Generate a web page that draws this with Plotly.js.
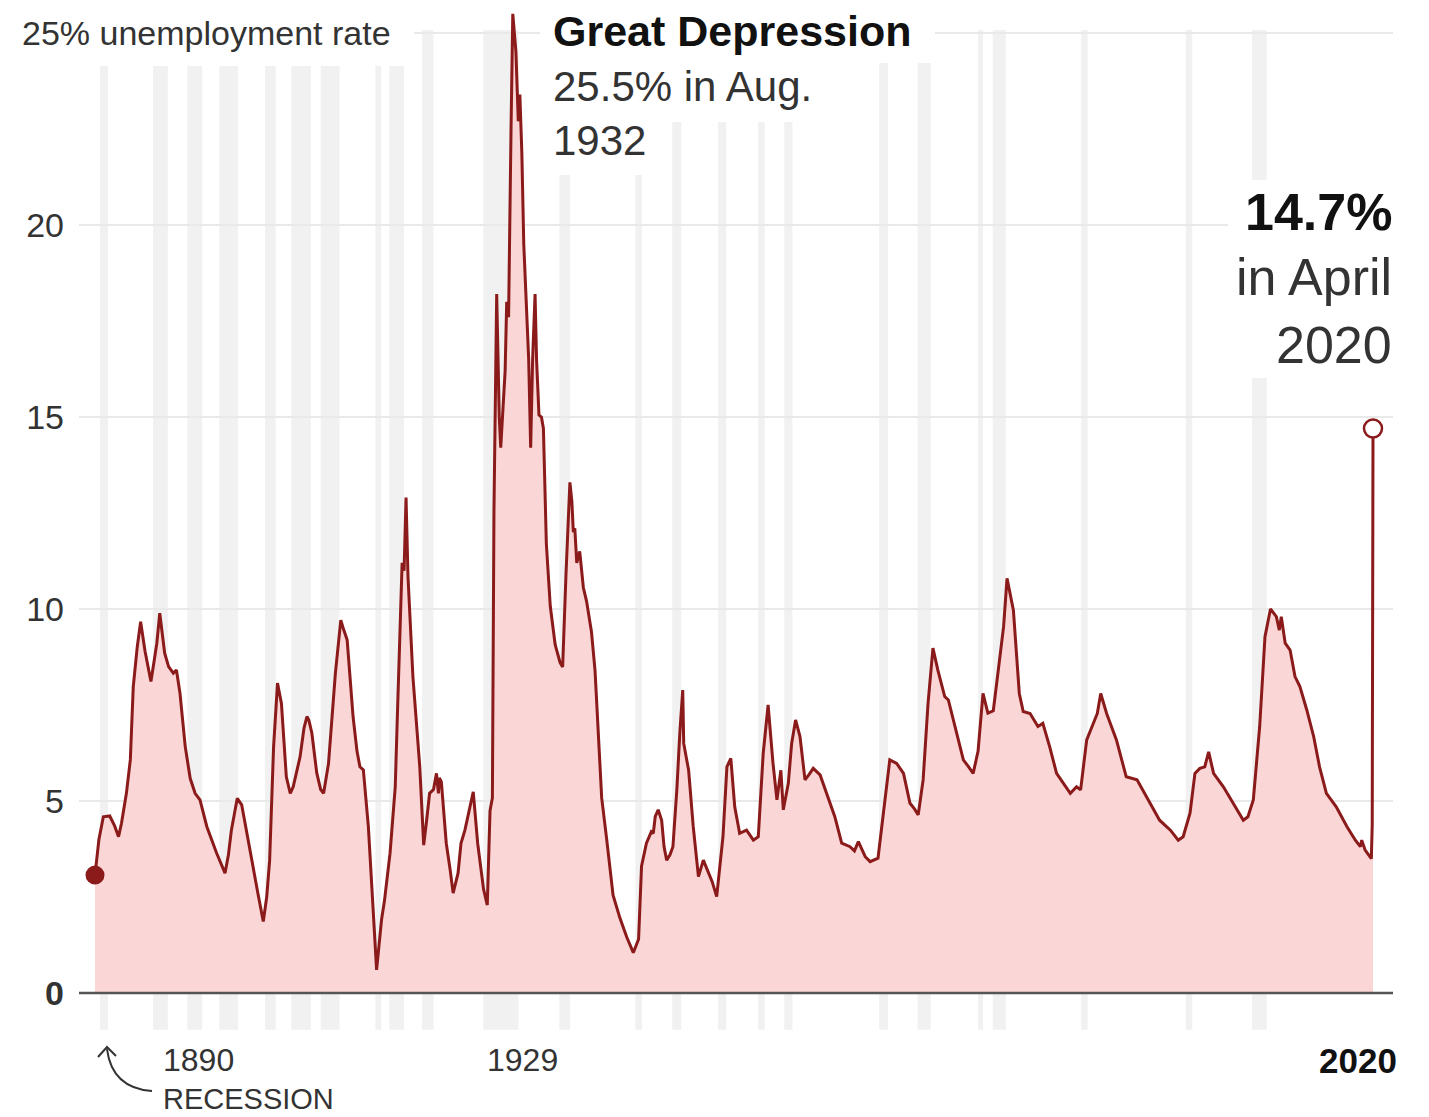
<!DOCTYPE html>
<html><head><meta charset="utf-8">
<script src="https://cdn.plot.ly/plotly-3.0.1.min.js"></script>
<style>html,body{margin:0;padding:0;background:#fff}#chart{width:1429px;height:1117px}</style>
</head><body><div id="chart"></div>
<script>
// Monthly-ish unemployment rate readings (decimal year, percent)
const years = [1890.0,1890.4,1890.85,1891.5,1892.0,1892.4,1892.7,1893.2,1893.6,1893.9,1894.3,1894.65,1895.1,1895.7,1896.0,1896.3,1896.6,1897.1,1897.5,1897.98,1898.3,1898.66,1899.2,1899.7,1900.2,1900.7,1901.4,1902.0,1902.4,1903.25,1903.6,1903.9,1904.5,1904.95,1905.5,1905.97,1906.6,1907.15,1907.5,1907.8,1908.0,1908.2,1908.6,1909.0,1909.5,1909.9,1910.2,1910.9,1911.3,1911.6,1911.8,1912.1,1912.6,1913.0,1913.3,1913.8,1914.5,1915.05,1915.3,1915.7,1916.3,1916.7,1917.0,1917.35,1917.86,1918.4,1918.7,1919.2,1919.5,1920.07,1920.6,1920.85,1921.1,1921.3,1921.5,1921.7,1921.9,1922.4,1923.1,1923.5,1923.8,1924.1,1924.5,1924.8,1925.0,1925.1,1925.3,1925.8,1926.2,1926.5,1927.0,1927.3,1927.7,1928.05,1928.55,1929.0,1929.24,1929.6,1929.98,1930.26,1930.5,1930.66,1930.94,1931.2,1931.35,1931.5,1931.8,1931.96,1932.15,1932.4,1932.58,1932.9,1933.14,1933.3,1933.5,1933.7,1933.9,1934.2,1934.4,1934.6,1934.85,1935.0,1935.25,1935.5,1935.7,1936.0,1936.4,1936.9,1937.4,1937.66,1938.0,1938.4,1938.6,1938.75,1938.9,1939.1,1939.4,1939.77,1940.1,1940.6,1940.96,1941.3,1941.64,1942.15,1942.8,1943.5,1944.2,1944.86,1945.4,1945.7,1946.2,1946.7,1946.9,1947.1,1947.4,1947.75,1948.0,1948.26,1948.6,1948.9,1949.3,1949.6,1949.9,1950.0,1950.5,1950.97,1951.5,1952.0,1952.5,1952.9,1953.36,1954.0,1954.4,1954.8,1955.2,1955.7,1956.4,1957.1,1957.6,1958.1,1958.6,1959.1,1959.5,1959.9,1960.15,1960.66,1961.0,1961.4,1961.85,1962.36,1962.8,1963.2,1963.9,1964.57,1965.4,1966.1,1966.95,1967.4,1967.8,1968.5,1969.0,1969.8,1970.5,1971.0,1971.7,1972.4,1973.06,1973.5,1973.9,1974.4,1974.9,1975.4,1975.9,1976.6,1976.97,1977.65,1978.2,1978.5,1979.0,1979.5,1980.0,1980.5,1981.0,1981.55,1982.06,1982.6,1982.95,1983.6,1984.2,1984.6,1985.3,1986.1,1986.6,1987.3,1988.0,1988.7,1989.4,1990.04,1990.45,1991.07,1991.6,1992.15,1992.5,1993.1,1994.1,1995.1,1996.2,1997.2,1998.5,1999.6,2000.4,2000.9,2001.6,2002.1,2002.6,2003.1,2003.5,2004.0,2005.0,2006.0,2007.03,2007.5,2008.05,2008.7,2009.24,2009.8,2010.4,2010.7,2010.9,2011.3,2011.8,2012.3,2012.8,2013.5,2014.2,2014.8,2015.5,2016.5,2017.6,2018.45,2018.96,2019.1,2019.45,2020.08,2020.17,2020.25];
const rates = [3.07,4.0,4.59,4.61,4.35,4.07,4.42,5.2,6.07,7.98,9.0,9.67,8.9,8.11,8.6,9.11,9.89,8.85,8.5,8.33,8.41,7.81,6.41,5.59,5.2,5.03,4.33,3.9,3.64,3.12,3.6,4.24,5.07,4.9,4.1,3.46,2.6,1.86,2.5,3.46,5.0,6.41,8.07,7.54,5.63,5.2,5.37,6.15,6.9,7.2,7.1,6.77,5.73,5.3,5.2,5.98,8.33,9.71,9.5,9.19,7.2,6.3,5.89,5.81,4.33,1.73,0.6,1.9,2.4,3.64,5.37,7.5,9.54,11.2,11.0,12.9,10.84,8.24,5.89,3.85,4.5,5.2,5.3,5.72,5.2,5.6,5.5,3.9,3.2,2.6,3.12,3.9,4.24,4.68,5.24,3.9,3.46,2.7,2.29,4.75,5.08,12.56,18.2,15.0,14.2,15.0,16.2,18.0,17.6,22.5,25.5,24.5,22.7,23.4,21.9,19.5,18.2,16.5,14.2,16.5,18.2,16.5,15.05,15.0,14.7,11.7,10.07,9.07,8.6,8.49,10.9,13.3,12.8,12.0,12.1,11.2,11.5,10.56,10.2,9.4,8.4,6.74,5.08,4.0,2.55,1.95,1.45,1.05,1.4,3.3,3.9,4.2,4.16,4.6,4.77,4.5,3.8,3.46,3.6,3.81,5.3,6.76,7.89,6.5,5.8,4.33,3.03,3.46,3.12,2.9,2.51,4.07,5.89,6.11,4.85,4.16,4.24,3.98,4.07,6.24,7.5,5.98,5.03,5.8,4.77,5.46,6.5,7.11,6.68,5.55,5.7,5.85,5.68,5.2,4.59,3.9,3.81,3.7,3.94,3.55,3.42,3.51,4.94,6.07,5.98,5.72,4.94,4.8,4.64,5.55,7.54,8.98,8.41,7.72,7.63,6.93,6.4,6.07,5.9,5.72,6.3,7.8,7.29,7.35,8.41,9.54,10.8,9.97,7.8,7.33,7.28,6.94,7.02,6.41,5.72,5.46,5.2,5.37,5.29,6.59,6.94,7.28,7.8,7.28,6.59,5.63,5.55,5.11,4.5,4.24,3.98,4.07,4.68,5.72,5.85,5.89,6.28,5.72,5.37,4.94,4.5,4.59,5.03,6.94,9.28,10.0,9.8,9.45,9.8,9.11,8.93,8.24,7.98,7.37,6.68,5.89,5.2,4.85,4.33,3.98,3.81,3.98,3.72,3.5,4.4,14.7];

// Recession periods (decimal year)
const recessionStarts = [1890.5,1895.92,1899.42,1902.67,1907.33,1910.0,1913.0,1918.58,1920.0,1923.33,1929.58,1937.33,1945.08,1948.83,1953.5,1957.58,1960.25,1969.92,1973.83,1980.0,1981.5,1990.5,2001.17,2007.92];
const recessionEnds   = [1891.33,1897.42,1900.92,1904.58,1908.42,1912.0,1914.92,1919.17,1921.5,1924.5,1933.17,1938.42,1945.75,1949.75,1954.33,1958.25,1961.08,1970.83,1975.17,1980.5,1982.83,1991.17,2001.83,2009.42];

const yTickVals = [0,5,10,15,20,25];
const yTickText = ['<b>0</b>','5','10','15','20',''];

// ---- layout geometry (pixels) ----
const W = 1429, H = 1117, L = 79, R = 36, T = 10, B = 87;
const PW = W - L - R, PH = H - T - B;
const PXYEAR = 9.812, PXUNIT = 38.4, X0PX = 95, Y0PX = 993;
const px2x = p => (p - L) / PW;
const py2y = p => (H - B - p) / PH;
const px2d = p => 1890 + (p - X0PX) / PXYEAR;
const py2d = p => (Y0PX - p) / PXUNIT;

const FONT = 'Liberation Sans, Arial, sans-serif';
const RED = '#8b1a1a';

const shapes = [];
recessionStarts.forEach((s, i) => {
  shapes.push({type:'rect', xref:'x', yref:'y', x0:s, x1:recessionEnds[i], y0:-0.96, y1:25.08,
    fillcolor:'#f1f1f1', line:{width:0}, layer:'below'});
});
// white masks behind the text blocks (drawn above grid/bands, below the line)
const masks = [[60,414,0,66],[540,935,0,63],[540,830,63,122],[540,665,122,175],[1228,1400,180,378]];
masks.forEach(m => shapes.push({type:'rect', xref:'x', yref:'y',
  x0:px2d(m[0]), x1:px2d(m[1]), y0:py2d(m[3]), y1:py2d(m[2]),
  fillcolor:'#ffffff', line:{width:0}, layer:'between'}));
// baseline
shapes.push({type:'line', xref:'paper', yref:'y', x0:0, x1:1, y0:0, y1:0, line:{color:'#555', width:2.5}, layer:'above'});
// curved arrow to the 1890 recession
const P = (x,y) => px2x(x).toFixed(5) + ',' + py2y(y).toFixed(5);
shapes.push({type:'path', xref:'paper', yref:'paper',
  path:'M' + P(152,1091) + ' Q' + P(112,1088) + ' ' + P(107,1049), line:{color:'#333', width:2}});
shapes.push({type:'path', xref:'paper', yref:'paper',
  path:'M' + P(98,1057) + ' L' + P(107,1047) + ' L' + P(116,1056), line:{color:'#333', width:2}});

const ann = (text, x, y, size, anchor, color) => ({text, xref:'paper', yref:'paper', x:px2x(x), y:py2y(y),
  xanchor:anchor, yanchor:'middle', showarrow:false, font:{family:FONT, size, color:color||'#333'}});

const annotations = [
  ann('25% unemployment rate', 20, 33, 34, 'left'),
  ann('<b>Great Depression</b>', 551, 31, 43, 'left', '#111'),
  ann('25.5% in Aug.', 551, 87, 42, 'left'),
  ann('1932', 551, 140, 42, 'left'),
  ann('<b>14.7%</b>', 1394, 212, 52, 'right', '#111'),
  ann('in April', 1394, 277, 52, 'right'),
  ann('2020', 1394, 345, 52, 'right'),
  ann('1890', 161, 1060, 32, 'left'),
  ann('RECESSION', 161, 1099, 29, 'left'),
  ann('1929', 485, 1060, 32, 'left'),
  ann('<b>2020</b>', 1399, 1060, 35, 'right', '#111')
];

const traces = [
  {x:years, y:rates, type:'scatter', mode:'lines', fill:'tozeroy', fillcolor:'rgb(251,214,214)',
   line:{color:RED, width:3}, hoverinfo:'skip'},
  {x:[years[0]], y:[rates[0]], type:'scatter', mode:'markers', marker:{size:19, color:RED}, hoverinfo:'skip', cliponaxis:false},
  {x:[years[years.length-1]], y:[rates[rates.length-1]], type:'scatter', mode:'markers',
   marker:{size:18, color:'#fff', line:{color:RED, width:2.5}}, hoverinfo:'skip', cliponaxis:false}
];

const layout = {
  width:W, height:H, margin:{l:L, r:R, t:T, b:B}, paper_bgcolor:'#fff', plot_bgcolor:'#fff',
  showlegend:false,
  xaxis:{range:[px2d(L), px2d(W-R)], showgrid:false, zeroline:false,
         showticklabels:false, ticks:'', showline:false, fixedrange:true},
  yaxis:{range:[py2d(H-B), py2d(T)], tickvals:yTickVals, ticktext:yTickText,
         showgrid:true, gridcolor:'#e9e9e9', gridwidth:2, zeroline:false, ticks:'',
         ticklabelstandoff:14, tickfont:{family:FONT, size:34, color:'#333'}, fixedrange:true},
  shapes, annotations
};
Plotly.newPlot('chart', traces, layout, {staticPlot:true, displayModeBar:false});
</script></body></html>
